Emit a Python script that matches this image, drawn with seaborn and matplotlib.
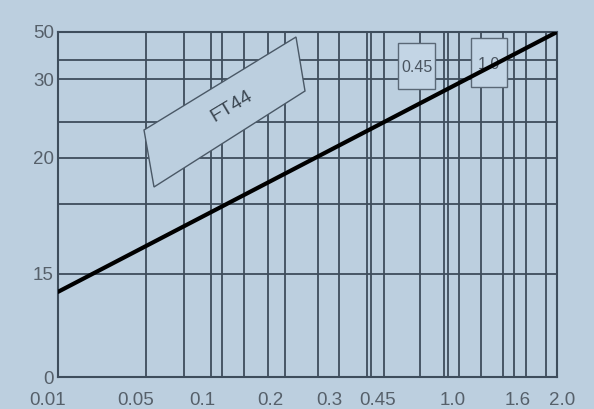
import numpy as np
import matplotlib
matplotlib.use("Agg")
import matplotlib.pyplot as plt
import matplotlib.transforms as mtransforms
from matplotlib.patches import Polygon, Rectangle
import seaborn as sns

# ---- data ----
x_ticks = [0.01, 0.05, 0.1, 0.2, 0.3, 0.45, 1.0, 1.6, 2.0]
x_tick_labels = ["0.01", "0.05", "0.1", "0.2", "0.3", "0.45", "1.0", "1.6", "2.0"]
y_ticks = [0, 15, 20, 30, 50]
y_tick_labels = ["0", "15", "20", "30", "50"]
line_x = [0.01, 2.0]
line_y = [12.4, 50]
label_main = "FT44"
label_boxes = ["0.45", "1.0"]

# ---- style ----
BG = "#bccfdf"
GRID = "#3e4d5c"
TXT = "#56606a"

sns.set_style("white")
plt.rcParams["font.family"] = ["Liberation Sans", "DejaVu Sans"]

fig = plt.figure(figsize=(5.94, 4.09), dpi=100, facecolor=BG)
W, H = 594, 409
L, R, T, B = 58, 557, 32, 377
ax = fig.add_axes([L / W, (H - B) / H, (R - L) / W, (B - T) / H])
ax.set_facecolor(BG)

# irregular chart scales (axis positions of the labelled values, in px from the axes origin)
x_pos = [0, 78, 144, 212, 271, 320, 395, 460, 499]
y_pos = [0, 103, 219, 298, 345]

def fx(v):
    return np.interp(v, x_ticks, x_pos)

def fx_inv(p):
    return np.interp(p, x_pos, x_ticks)

def fy(v):
    return np.interp(v, y_ticks, y_pos)

def fy_inv(p):
    return np.interp(p, y_pos, y_ticks)

ax.set_xscale("function", functions=(fx, fx_inv))
ax.set_yscale("function", functions=(fy, fy_inv))

sns.lineplot(x=line_x, y=line_y, ax=ax, color="black", linewidth=3.0,
             solid_capstyle="round", zorder=5)

ax.set_xlim(x_ticks[0], x_ticks[-1])
ax.set_ylim(y_ticks[0], y_ticks[-1])

# grid line placement (pixel offsets from axes origin)
vgrid_px = [88, 126, 153, 164, 186, 210, 227, 260, 281, 309, 313, 326, 362,
            386, 390, 401, 423, 445, 456, 468, 488]
hgrid_px = [173, 255, 317]
ax.set_xticks(x_ticks)
ax.set_xticklabels(x_tick_labels)
ax.set_xticks(fx_inv(np.array(vgrid_px, float)), minor=True)
ax.set_yticks(y_ticks)
ax.set_yticklabels(y_tick_labels)
ax.set_yticks(fy_inv(np.array(hgrid_px, float)), minor=True)

ax.grid(False)
ax.grid(True, which="minor", axis="x", color=GRID, linewidth=1.3)
ax.grid(True, which="both", axis="y", color=GRID, linewidth=1.3)
ax.tick_params(which="both", length=0)
ax.tick_params(axis="x", pad=11, labelsize=13.5, labelcolor=TXT)
ax.tick_params(axis="y", pad=3, labelsize=13.5, labelcolor=TXT)
for s in ax.spines.values():
    s.set_visible(True)
    s.set_color(GRID)
    s.set_linewidth(1.5)

# nudge the end labels like the original
xl = ax.get_xticklabels()
xl[0].set_transform(xl[0].get_transform() + mtransforms.ScaledTranslation(-10 / 100, 0, fig.dpi_scale_trans))
xl[-1].set_transform(xl[-1].get_transform() + mtransforms.ScaledTranslation(5 / 100, 0, fig.dpi_scale_trans))

def ax_frac(px, py):
    return ((px - L) / (R - L), (B - py) / (B - T))

# FT44 label box
corners = [ax_frac(144, 130), ax_frac(296, 37), ax_frac(305, 91), ax_frac(154, 187)]
ax.add_patch(Polygon(corners, closed=True, transform=ax.transAxes,
                     facecolor=BG, edgecolor="#4a5866", linewidth=1.0, zorder=3))
cx, cy = ax_frac(232, 106)
ax.text(cx, cy, label_main, transform=ax.transAxes, rotation=31,
        rotation_mode="anchor", ha="center", va="center",
        fontsize=14, color="#3a4550", zorder=4)

# small boxes
for lbl, (x0, y0, x1, y1) in zip(label_boxes, [(398, 43, 435, 89), (471, 38, 507, 87)]):
    a0 = ax_frac(x0, y1)
    a1 = ax_frac(x1, y0)
    ax.add_patch(Rectangle(a0, a1[0] - a0[0], a1[1] - a0[1], transform=ax.transAxes,
                           facecolor="#c3d5e5", edgecolor="#5a6876", linewidth=1.0, zorder=3))
    tx, ty = ax_frac((x0 + x1) / 2, (y0 + y1) / 2 + 2)
    ax.text(tx, ty, lbl, transform=ax.transAxes, ha="center", va="center",
            fontsize=11.5, color="#4a5560", zorder=4)

fig.savefig("out.png", dpi=100, facecolor=BG)
